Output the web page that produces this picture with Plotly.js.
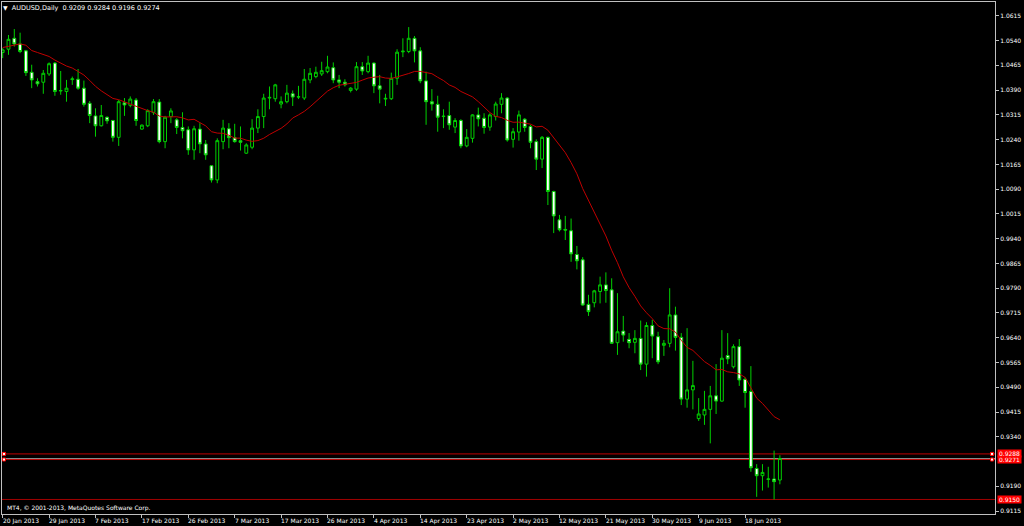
<!DOCTYPE html>
<html><head><meta charset="utf-8">
<script src="https://cdn.plot.ly/plotly-3.0.1.min.js"></script>
<style>html,body{margin:0;padding:0;background:#000;overflow:hidden}#chart{width:1024px;height:526px}</style>
</head><body><div id="chart"></div>
<script>
const symbol = 'AUDUSD';
const timeframe = 'Daily';
const openP = [1.0504,1.0514,1.0547,1.0530,1.0509,1.0444,1.0416,1.0414,1.0439,1.0472,
1.0389,1.0386,1.0422,1.0423,1.0396,1.0350,1.0312,1.0282,1.0308,1.0298,
1.0247,1.0352,1.0344,1.0360,1.0272,1.0282,1.0322,1.0354,1.0234,1.0310,
1.0300,1.0277,1.0270,1.0209,1.0272,1.0227,1.0161,1.0118,1.0234,1.0273,
1.0246,1.0237,1.0199,1.0217,1.0275,1.0310,1.0366,1.0364,1.0348,1.0355,
1.0379,1.0369,1.0366,1.0421,1.0431,1.0439,1.0446,1.0458,1.0421,1.0414,
1.0389,1.0393,1.0461,1.0446,1.0472,1.0403,1.0363,1.0364,1.0426,1.0506,
1.0507,1.0547,1.0509,1.0418,1.0355,1.0347,1.0310,1.0313,1.0278,1.0298,
1.0221,1.0244,1.0315,1.0305,1.0278,1.0310,1.0347,1.0366,1.0241,1.0263,
1.0302,1.0280,1.0234,1.0181,1.0247,1.0083,0.9997,0.9968,0.9964,0.9892,
0.9876,0.9741,0.9746,0.9780,0.9800,0.9785,0.9625,0.9660,0.9635,0.9626,
0.9638,0.9560,0.9677,0.9643,0.9617,0.9623,0.9709,0.9641,0.9454,0.9482,
0.9395,0.9406,0.9423,0.9464,0.9448,0.9586,0.9552,0.9613,0.9514,0.9477,
0.9244,0.9222,0.9211,0.9212,0.9209];
const highP = [1.0517,1.0557,1.0575,1.0564,1.0512,1.0467,1.0426,1.0451,1.0474,1.0475,
1.0448,1.0421,1.0431,1.0454,1.0419,1.0357,1.0335,1.0345,1.0310,1.0300,
1.0360,1.0366,1.0371,1.0366,1.0286,1.0332,1.0363,1.0363,1.0312,1.0335,
1.0305,1.0323,1.0280,1.0282,1.0290,1.0239,1.0162,1.0244,1.0300,1.0290,
1.0288,1.0280,1.0229,1.0302,1.0332,1.0379,1.0401,1.0409,1.0371,1.0406,
1.0389,1.0403,1.0454,1.0457,1.0461,1.0476,1.0494,1.0474,1.0436,1.0423,
1.0399,1.0475,1.0475,1.0494,1.0474,1.0436,1.0379,1.0443,1.0514,1.0547,
1.0581,1.0554,1.0520,1.0446,1.0393,1.0373,1.0332,1.0355,1.0305,1.0302,
1.0272,1.0317,1.0337,1.0320,1.0320,1.0355,1.0381,1.0369,1.0275,1.0328,
1.0305,1.0285,1.0241,1.0251,1.0249,1.0085,1.0012,1.0009,1.0001,0.9918,
0.9884,0.9770,0.9785,0.9825,0.9838,0.9820,0.9775,0.9706,0.9654,0.9663,
0.9692,0.9687,0.9694,0.9658,0.9633,0.9790,0.9734,0.9654,0.9669,0.9570,
0.9457,0.9479,0.9494,0.9560,0.9663,0.9654,0.9620,0.9636,0.9520,0.9554,
0.9257,0.9257,0.9249,0.9298,0.9284];
const lowP = [1.0487,1.0497,1.0522,1.0502,1.0433,1.0396,1.0401,1.0379,1.0433,1.0373,
1.0376,1.0355,1.0406,1.0391,1.0340,1.0290,1.0249,1.0280,1.0288,1.0234,
1.0221,1.0312,1.0338,1.0282,1.0270,1.0278,1.0315,1.0229,1.0214,1.0290,
1.0257,1.0244,1.0194,1.0179,1.0199,1.0179,1.0110,1.0108,1.0211,1.0214,
1.0231,1.0207,1.0197,1.0211,1.0260,1.0275,1.0332,1.0355,1.0335,1.0350,
1.0342,1.0363,1.0360,1.0411,1.0426,1.0433,1.0441,1.0411,1.0396,1.0401,
1.0383,1.0388,1.0436,1.0441,1.0381,1.0350,1.0342,1.0360,1.0406,1.0490,
1.0502,1.0474,1.0411,1.0285,1.0328,1.0264,1.0275,1.0270,1.0260,1.0214,
1.0217,1.0231,1.0280,1.0258,1.0267,1.0298,1.0320,1.0234,1.0216,1.0237,
1.0264,1.0214,1.0148,1.0154,1.0042,0.9957,0.9962,0.9936,0.9870,0.9847,
0.9737,0.9706,0.9732,0.9744,0.9746,0.9621,0.9588,0.9628,0.9608,0.9593,
0.9542,0.9522,0.9578,0.9560,0.9585,0.9611,0.9601,0.9436,0.9428,0.9423,
0.9388,0.9376,0.9320,0.9409,0.9446,0.9560,0.9547,0.9494,0.9428,0.9234,
0.9158,0.9177,0.9186,0.9150,0.9196];
const closeP = [1.0512,1.0544,1.0530,1.0507,1.0443,1.0421,1.0409,1.0441,1.0470,1.0386,
1.0388,1.0396,1.0424,1.0396,1.0347,1.0313,1.0282,1.0313,1.0297,1.0247,
1.0355,1.0345,1.0363,1.0298,1.0284,1.0328,1.0355,1.0234,1.0308,1.0327,
1.0277,1.0267,1.0209,1.0273,1.0227,1.0194,1.0118,1.0237,1.0275,1.0246,
1.0234,1.0232,1.0224,1.0275,1.0310,1.0366,1.0368,1.0406,1.0355,1.0381,
1.0369,1.0370,1.0423,1.0441,1.0444,1.0449,1.0460,1.0421,1.0414,1.0406,
1.0396,1.0461,1.0448,1.0472,1.0403,1.0393,1.0365,1.0426,1.0505,1.0508,
1.0547,1.0509,1.0418,1.0355,1.0348,1.0308,1.0311,1.0285,1.0298,1.0221,
1.0247,1.0315,1.0303,1.0277,1.0315,1.0348,1.0366,1.0239,1.0264,1.0315,
1.0277,1.0232,1.0181,1.0247,1.0083,1.0009,0.9967,0.9966,0.9894,0.9873,
0.9739,0.9719,0.9782,0.9800,0.9783,0.9623,0.9658,0.9648,0.9625,0.9638,
0.9560,0.9677,0.9645,0.9567,0.9623,0.9709,0.9641,0.9454,0.9482,0.9495,
0.9409,0.9423,0.9464,0.9448,0.9578,0.9576,0.9613,0.9512,0.9474,0.9246,
0.9222,0.9232,0.9212,0.9204,0.9274];
const maPeriod = 14;
const maLead = [1.0519,1.0523,1.0528,1.0530,1.0526,1.0510,1.0504,1.0498,1.0492,1.0481,1.0471,1.0463,1.0457];
const xTickBars = [0,8,16,24,32,40,48,56,64,72,80,88,96,104,112,120,128];
const xTickLabels = ['20 Jan 2013','29 Jan 2013','7 Feb 2013','17 Feb 2013','26 Feb 2013','7 Mar 2013','17 Mar 2013','26 Mar 2013','4 Apr 2013','14 Apr 2013','23 Apr 2013','2 May 2013','12 May 2013','21 May 2013','30 May 2013','9 Jun 2013','18 Jun 2013'];
const yTickVals = [1.0615,1.0540,1.0465,1.0390,1.0315,1.0240,1.0165,1.0090,1.0015,0.9940,0.9865,0.9790,0.9715,0.9640,0.9565,0.9490,0.9415,0.9340,0.9190,0.9115];
const levelLines = [0.9271, 0.9288];
const supportLevel = 0.9150;
const copyright = 'MT4, © 2001-2013, MetaQuotes Software Corp.';

const bars = closeP.map((_, i) => i);
const ma = closeP.map((_, i) => {
  if (i < maPeriod - 1) return maLead[i];
  let s = 0;
  for (let k = i - maPeriod + 1; k <= i; k++) s += closeP[k];
  return s / maPeriod;
});
const last = closeP.length - 1;
const bid = closeP[last];
const nb = '\u00a0';
const titleText = '<span style="font-size:6px">▼</span>' + nb + nb + symbol + ',' + timeframe + nb + nb +
  [openP[last], highP[last], lowP[last], closeP[last]].map(v => v.toFixed(4)).join(nb);

const GREEN = '#00d000';
const traces = [
  {
    type: 'candlestick', x: bars, open: openP, high: highP, low: lowP, close: closeP,
    increasing: {line: {color: GREEN, width: 1}, fillcolor: '#000000'},
    decreasing: {line: {color: GREEN, width: 1}, fillcolor: '#ffffff'},
    whiskerwidth: 0, hoverinfo: 'skip', showlegend: false
  },
  {
    type: 'scatter', mode: 'lines', x: bars, y: ma,
    line: {color: '#c00000', width: 1}, hoverinfo: 'skip', showlegend: false
  }
];

const shapes = [];
levelLines.forEach(v => {
  shapes.push({type: 'line', xref: 'paper', x0: 0, x1: 1, yref: 'y', y0: v, y1: v,
    line: {color: '#c00000', width: 1}, layer: 'below'});
});
shapes.push({type: 'line', xref: 'paper', x0: 0, x1: 1, yref: 'y', y0: bid, y1: bid,
  line: {color: '#909090', width: 1}, layer: 'below'});
shapes.push({type: 'line', xref: 'paper', x0: 0, x1: 1, yref: 'y', y0: supportLevel, y1: supportLevel,
  line: {color: '#a00000', width: 1}, layer: 'below'});
levelLines.forEach(v => {
  [[1, -4.5, -1.5], [0, 0.5, 3.5]].forEach(([anc, a, b]) => {
    shapes.push({type: 'rect', xref: 'paper', xsizemode: 'pixel', xanchor: anc, x0: a, x1: b,
      yref: 'y', ysizemode: 'pixel', yanchor: v, y0: -1.5, y1: 1.5,
      fillcolor: '#ffffff', line: {color: '#ff0000', width: 1}, layer: 'above'});
  });
});

const labelFont = {family: 'DejaVu Sans', size: 6, color: '#ffffff'};
const annotations = [];
levelLines.concat([supportLevel]).forEach(v => {
  annotations.push({xref: 'paper', x: 1, xanchor: 'left', xshift: 2, yref: 'y', y: v, yanchor: 'middle',
    text: v.toFixed(4), showarrow: false, bgcolor: '#ff0000', borderpad: 0, width: 23, height: 7,
    font: labelFont});
});
annotations.push({xref: 'paper', x: 0, xanchor: 'left', xshift: 2.5, yref: 'paper', y: 0, yanchor: 'middle', yshift: 6,
  text: copyright, showarrow: false, font: labelFont});
xTickBars.forEach((b, i) => {
  annotations.push({xref: 'x', x: b, xanchor: 'left', xshift: -1, yref: 'paper', y: 0, yanchor: 'middle', yshift: -6.5,
    text: xTickLabels[i], showarrow: false, borderpad: 0, font: labelFont});
});

const layout = {
  width: 1024, height: 526,
  paper_bgcolor: '#000000', plot_bgcolor: '#000000',
  margin: {l: 2, r: 29, t: 2, b: 12, pad: 0},
  showlegend: false,
  font: labelFont,
  boxgap: 0.3,
  title: {text: titleText, xref: 'container', x: 3 / 1024, xanchor: 'left',
    yref: 'container', y: 1 - 7.5 / 526, yanchor: 'middle',
    font: {family: 'DejaVu Sans', size: 6.5, color: '#ffffff'}},
  xaxis: {range: [-0.12, 171.09], showgrid: false, zeroline: false, showline: true, mirror: true,
    linecolor: '#c0c0c0', linewidth: 1, tickmode: 'array', tickvals: xTickBars, showticklabels: false,
    ticks: 'outside', ticklen: 3, tickcolor: '#c0c0c0',
    rangeslider: {visible: false}, fixedrange: true},
  yaxis: {side: 'right', range: [0.9106, 1.0657], showgrid: false, zeroline: false, showline: true, mirror: true,
    linecolor: '#c0c0c0', linewidth: 1, tickmode: 'array', tickvals: yTickVals,
    ticktext: yTickVals.map(v => v.toFixed(4)), ticks: 'outside', ticklen: 3, tickcolor: '#c0c0c0',
    tickfont: labelFont, fixedrange: true},
  shapes: shapes, annotations: annotations
};

Plotly.newPlot('chart', traces, layout, {staticPlot: true, displayModeBar: false});
</script></body></html>
